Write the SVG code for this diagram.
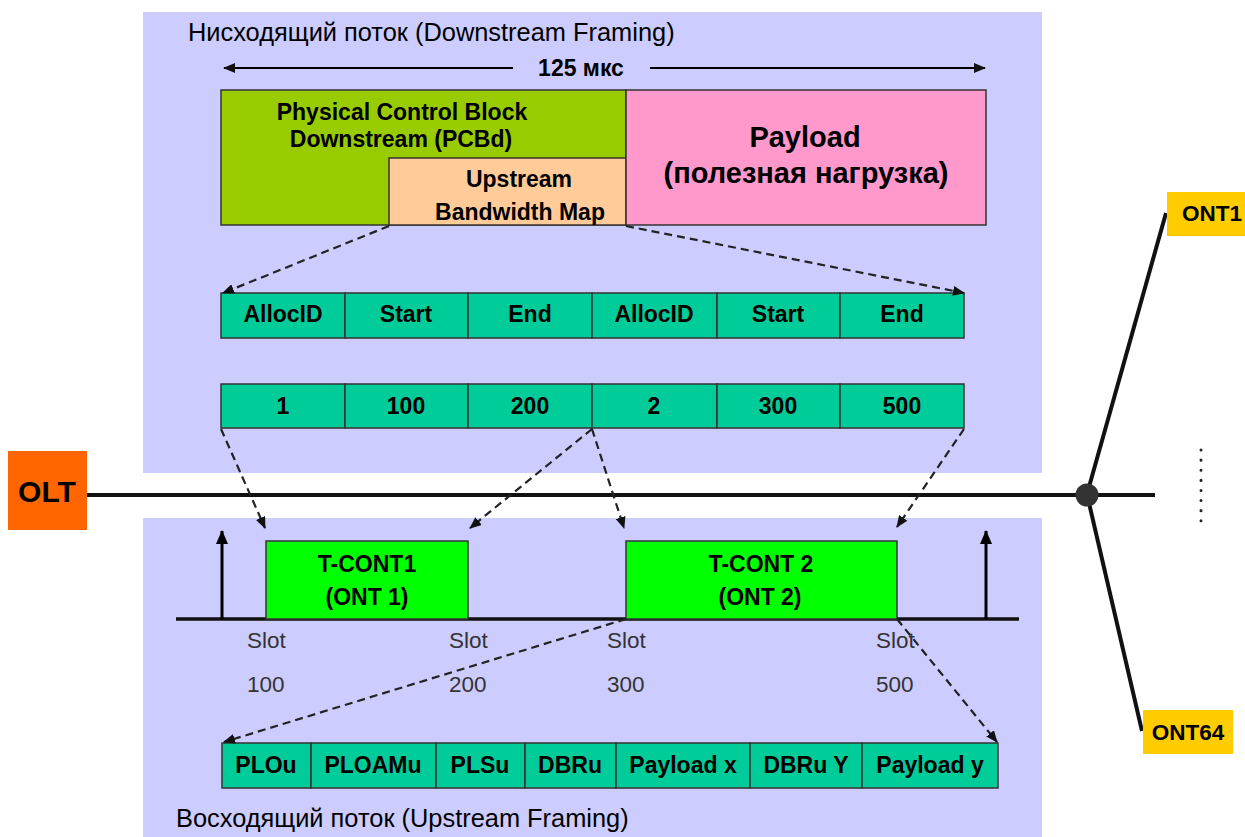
<svg xmlns="http://www.w3.org/2000/svg" width="1245" height="837" viewBox="0 0 1245 837">
<defs>
<style>
.panel{fill:#CCCCFF;}
.cell{fill:#00CC99;stroke:#333;stroke-width:1.5;}
.tc{fill:#00FF00;stroke:#333;stroke-width:1.5;}
.t{font-family:"Liberation Sans",Arial,sans-serif;fill:#000;}
.b{font-weight:bold;}
.c{text-anchor:middle;}
.cellt{font-family:"Liberation Sans",Arial,sans-serif;font-weight:bold;font-size:23px;text-anchor:middle;fill:#000;}
.slot{font-family:"Liberation Sans",Arial,sans-serif;font-size:22.5px;fill:#333;}
.dash{fill:none;stroke:#222;stroke-width:2.2;stroke-dasharray:8 5;marker-end:url(#ah);}
.solid{fill:none;stroke:#000;stroke-width:3;}
</style>
<marker id="ah" markerWidth="12" markerHeight="10" refX="11" refY="5" orient="auto" markerUnits="userSpaceOnUse">
<path d="M0,0 L12,5 L0,10 z" fill="#111"/>
</marker>
<marker id="ah2" markerWidth="14" markerHeight="12" refX="13" refY="6" orient="auto" markerUnits="userSpaceOnUse">
<path d="M0,0 L14,6 L0,12 z" fill="#000"/>
</marker>
</defs>

<g id="panels">
<rect class="panel" x="143" y="12" width="899" height="461"/>
<rect class="panel" x="143" y="518" width="899" height="319"/>
</g>

<g id="titles">
<text class="t" x="188" y="41" font-size="25.4">Нисходящий поток (Downstream Framing)</text>
<text class="t" x="176" y="827" font-size="25.4">Восходящий поток (Upstream Framing)</text>
</g>

<g id="duration">
<path d="M513,68 L224,68" fill="none" stroke="#000" stroke-width="2" marker-end="url(#ah)"/>
<path d="M650,68 L985,68" fill="none" stroke="#000" stroke-width="2" marker-end="url(#ah)"/>
<text class="t b c" x="581" y="76" font-size="23">125 мкс</text>
</g>

<g id="pcbd">
<rect x="221" y="90" width="405" height="135" fill="#99CC00" stroke="#333" stroke-width="1.5"/>
<text class="t b c" x="402" y="120" font-size="23">Physical Control Block</text>
<text class="t b c" x="401" y="147" font-size="23">Downstream (PCBd)</text>
</g>
<g id="ubm">
<rect x="389" y="158" width="237" height="67" fill="#FFCC99" stroke="#333" stroke-width="1.5"/>
<text class="t b c" x="519" y="187" font-size="23">Upstream</text>
<text class="t b c" x="520" y="220" font-size="23">Bandwidth Map</text>
</g>
<g id="payload">
<rect x="626" y="90" width="360" height="135" fill="#FF99CC" stroke="#333" stroke-width="1.5"/>
<text class="t b c" x="805" y="147" font-size="29">Payload</text>
<text class="t b c" x="806" y="183" font-size="29">(полезная нагрузка)</text>
</g>

<g id="map-header">
<rect class="cell" x="221" y="293" width="124" height="45"/>
<rect class="cell" x="345" y="293" width="123" height="45"/>
<rect class="cell" x="468" y="293" width="124" height="45"/>
<rect class="cell" x="592" y="293" width="125" height="45"/>
<rect class="cell" x="717" y="293" width="123" height="45"/>
<rect class="cell" x="840" y="293" width="124" height="45"/>
<text class="cellt" x="283" y="322">AllocID</text>
<text class="cellt" x="406" y="322">Start</text>
<text class="cellt" x="530" y="322">End</text>
<text class="cellt" x="654" y="322">AllocID</text>
<text class="cellt" x="778" y="322">Start</text>
<text class="cellt" x="902" y="322">End</text>
</g>

<g id="map-values">
<rect class="cell" x="221" y="384" width="124" height="44"/>
<rect class="cell" x="345" y="384" width="123" height="44"/>
<rect class="cell" x="468" y="384" width="124" height="44"/>
<rect class="cell" x="592" y="384" width="125" height="44"/>
<rect class="cell" x="717" y="384" width="123" height="44"/>
<rect class="cell" x="840" y="384" width="124" height="44"/>
<text class="cellt" x="283" y="414">1</text>
<text class="cellt" x="406" y="414">100</text>
<text class="cellt" x="530" y="414">200</text>
<text class="cellt" x="654" y="414">2</text>
<text class="cellt" x="778" y="414">300</text>
<text class="cellt" x="902" y="414">500</text>
</g>

<g id="olt">
<rect x="8" y="451" width="79" height="79" fill="#FF6600"/>
<text class="t b c" x="47" y="502" font-size="30">OLT</text>
</g>

<g id="timeline">
<line x1="176" y1="619" x2="1019" y2="619" stroke="#111" stroke-width="3.5"/>
<path class="solid" d="M222,619 L222,531" marker-end="url(#ah2)"/>
<path class="solid" d="M986,619 L986,531" marker-end="url(#ah2)"/>
</g>

<g id="tcont1">
<rect class="tc" x="266" y="541" width="202" height="78"/>
<text class="t b c" x="367" y="572" font-size="23">T-CONT1</text>
<text class="t b c" x="367" y="605" font-size="23">(ONT 1)</text>
</g>
<g id="tcont2">
<rect class="tc" x="626" y="541" width="271" height="78"/>
<text class="t b c" x="761" y="572" font-size="23">T-CONT 2</text>
<text class="t b c" x="760" y="605" font-size="23">(ONT 2)</text>
</g>

<g id="slots">
<text class="slot" x="247" y="648">Slot</text>
<text class="slot" x="247" y="692">100</text>
<text class="slot" x="449" y="648">Slot</text>
<text class="slot" x="449" y="692">200</text>
<text class="slot" x="607" y="648">Slot</text>
<text class="slot" x="607" y="692">300</text>
<text class="slot" x="876" y="648">Slot</text>
<text class="slot" x="876" y="692">500</text>
</g>

<g id="upstream-frame">
<rect class="cell" x="222" y="743" width="89" height="45"/>
<rect class="cell" x="311" y="743" width="125" height="45"/>
<rect class="cell" x="436" y="743" width="89" height="45"/>
<rect class="cell" x="525" y="743" width="91" height="45"/>
<rect class="cell" x="616" y="743" width="134" height="45"/>
<rect class="cell" x="750" y="743" width="112" height="45"/>
<rect class="cell" x="862" y="743" width="136" height="45"/>
<text class="cellt" x="266" y="773">PLOu</text>
<text class="cellt" x="373" y="773">PLOAMu</text>
<text class="cellt" x="480" y="773">PLSu</text>
<text class="cellt" x="570" y="773">DBRu</text>
<text class="cellt" x="683" y="773">Payload x</text>
<text class="cellt" x="806" y="773">DBRu Y</text>
<text class="cellt" x="930" y="773">Payload y</text>
</g>

<g id="splitter">
<line x1="87" y1="495" x2="1155" y2="495" stroke="#111" stroke-width="4"/>
<line x1="1089" y1="487" x2="1166" y2="213" stroke="#111" stroke-width="4"/>
<line x1="1089" y1="503" x2="1142" y2="731" stroke="#111" stroke-width="4"/>
<ellipse cx="1087" cy="495" rx="11.5" ry="11.5" fill="#333"/>
<line x1="1201" y1="450" x2="1201" y2="522" stroke="#222" stroke-width="3" stroke-linecap="round" stroke-dasharray="0.1 10"/>
</g>

<g id="ont1">
<rect x="1167" y="192" width="78" height="44" fill="#FFCC00"/>
<text class="t b c" x="1212" y="221" font-size="22.5">ONT1</text>
</g>
<g id="ont64">
<rect x="1143" y="710" width="90" height="44" fill="#FFCC00"/>
<text class="t b c" x="1188" y="740" font-size="22.5">ONT64</text>
</g>

<g id="connectors">
<path class="dash" d="M389,226 L223,293"/>
<path class="dash" d="M626,226 L964,293"/>
<path class="dash" d="M221,429 L265,528"/>
<path class="dash" d="M592,429 L470,528"/>
<path class="dash" d="M592,429 L624,528"/>
<path class="dash" d="M964,429 L897,527"/>
<path class="dash" d="M626,619 L224,742"/>
<path class="dash" d="M897,619 L997,742"/>
</g>
</svg>
